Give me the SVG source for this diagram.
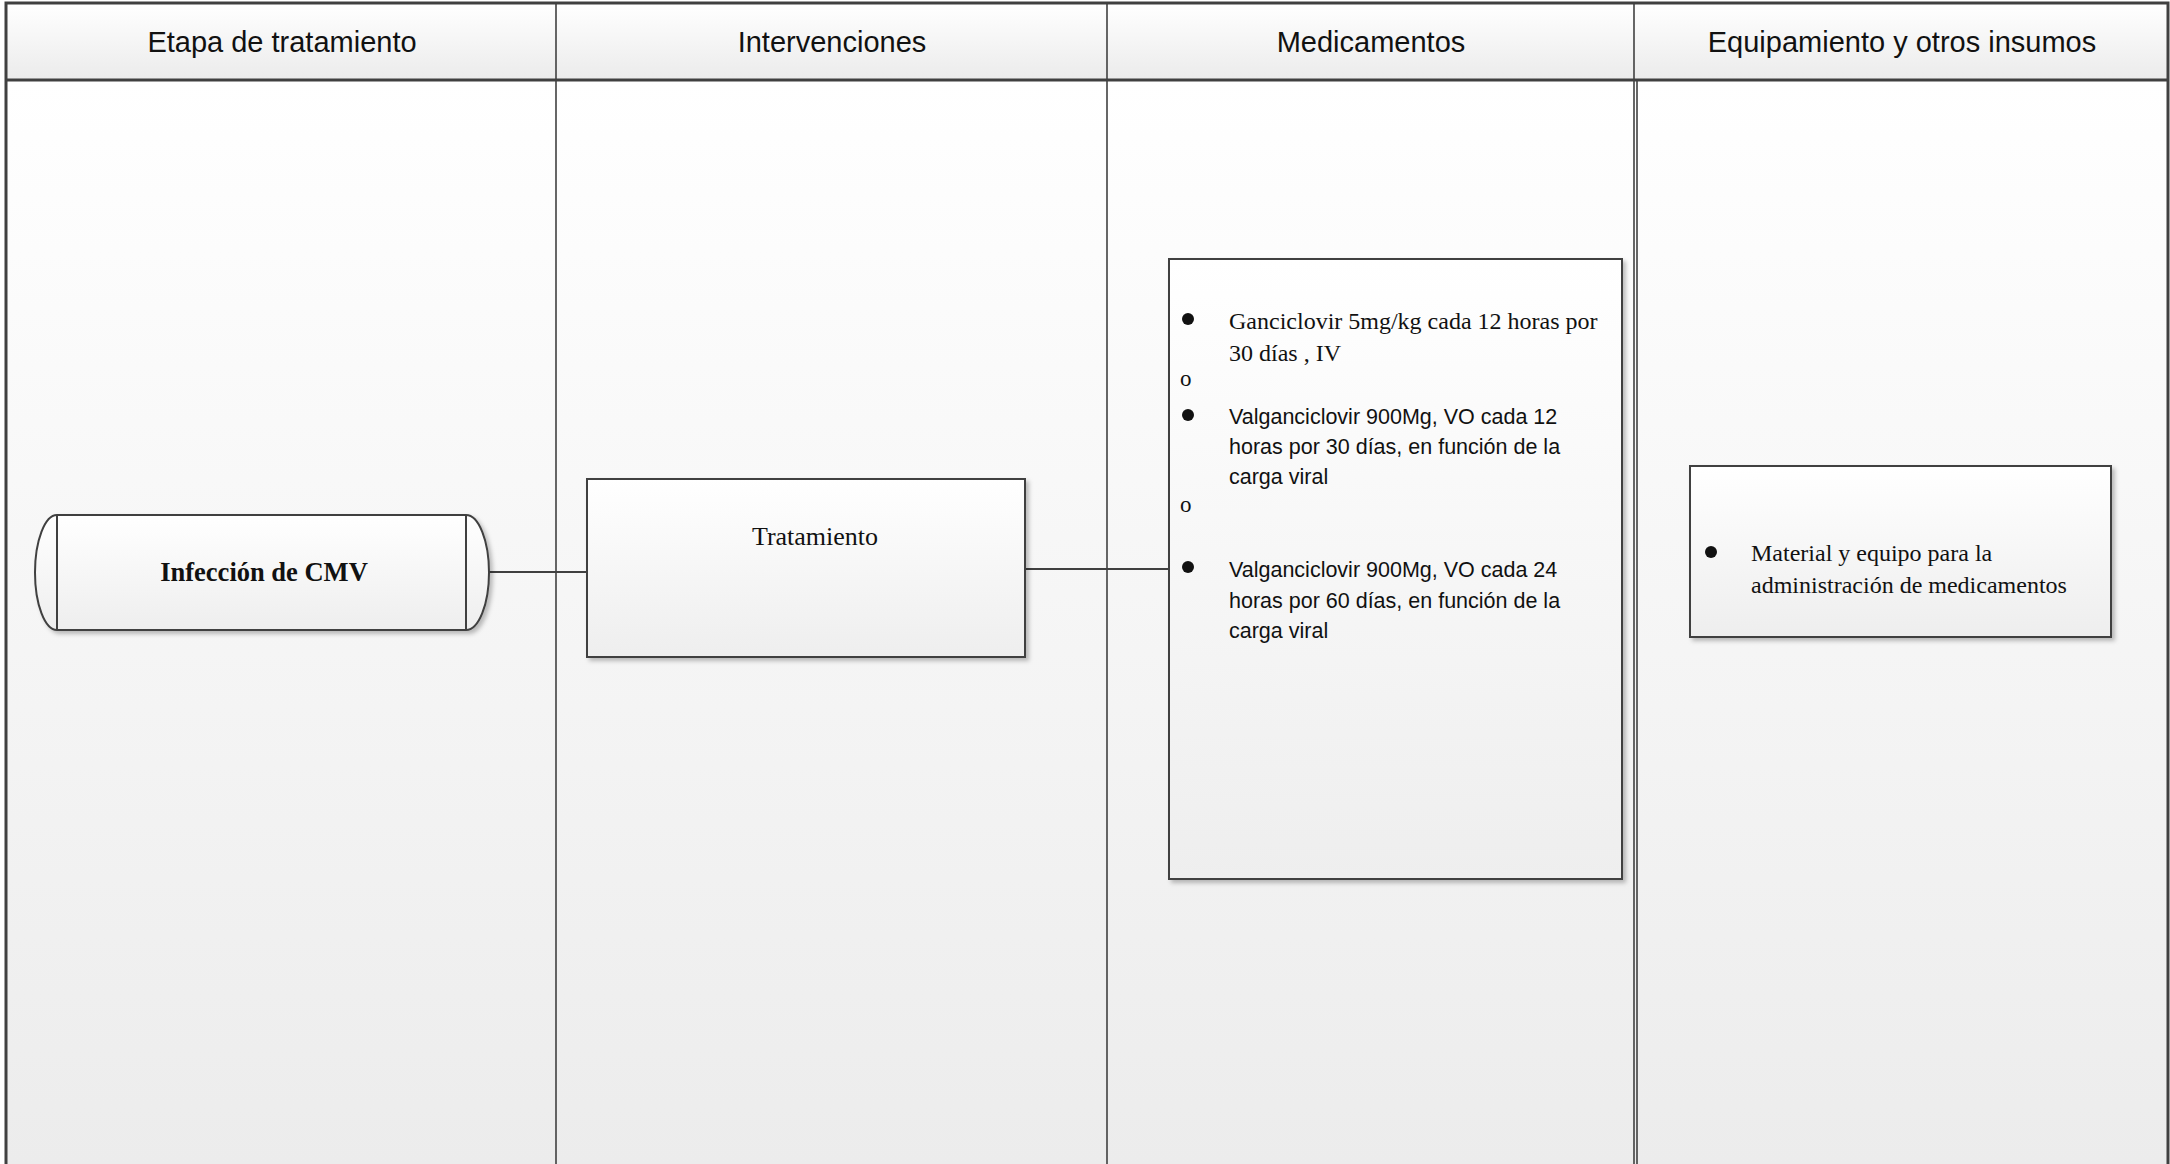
<svg xmlns="http://www.w3.org/2000/svg" width="2170" height="1164" viewBox="0 0 2170 1164">
<defs>
<linearGradient id="lane" x1="0" y1="0" x2="0" y2="1"><stop offset="0" stop-color="#ffffff"/><stop offset="1" stop-color="#ececec"/></linearGradient>
<linearGradient id="hdr" x1="0" y1="0" x2="0" y2="1"><stop offset="0" stop-color="#ffffff"/><stop offset="1" stop-color="#ebebeb"/></linearGradient>
<linearGradient id="box" x1="0" y1="0" x2="0" y2="1"><stop offset="0" stop-color="#ffffff"/><stop offset="1" stop-color="#eeeeee"/></linearGradient>
<filter id="sh" x="-5%" y="-5%" width="115%" height="115%"><feDropShadow dx="3" dy="3" stdDeviation="2" flood-color="#000" flood-opacity="0.25"/></filter>
</defs>
<style>
.frame{fill:none;stroke:#404040;stroke-width:3}
.lane{stroke:#404040;stroke-width:1.6}
.hd{font-family:"Liberation Sans",Arial,sans-serif;font-size:29px;fill:#111;text-anchor:middle}
.node{fill:url(#box);stroke:#404040;stroke-width:2;filter:url(#sh)}
.tm{font-family:"Liberation Serif","Times New Roman",serif;fill:#111}
.sa{font-family:"Liberation Sans",Arial,sans-serif;font-size:21.5px;fill:#111}
.con{stroke:#404040;stroke-width:2;fill:none}
.bul{fill:#111}
</style>
<rect x="0" y="0" width="2170" height="1164" fill="#ffffff"/>
<g id="lanes">
<rect x="7" y="80" width="2160" height="1084" fill="url(#lane)"/>
<rect x="7" y="4" width="2160" height="76" fill="url(#hdr)"/>
<line class="lane" x1="556" y1="4" x2="556" y2="1164"/>
<line class="lane" x1="1107" y1="4" x2="1107" y2="1164"/>
<line class="lane" x1="1634" y1="4" x2="1634" y2="1164"/>
<line class="lane" x1="1637" y1="80" x2="1637" y2="1164"/>
<line x1="7" y1="80" x2="2167" y2="80" stroke="#404040" stroke-width="3"/>
<rect class="frame" x="6" y="3" width="2162" height="1170"/>
<text class="hd" x="282" y="52">Etapa de tratamiento</text>
<text class="hd" x="832" y="52">Intervenciones</text>
<text class="hd" x="1371" y="52">Medicamentos</text>
<text class="hd" x="1902" y="52">Equipamiento y otros insumos</text>
</g>
<g id="connectors">
<line class="con" x1="489" y1="572" x2="587" y2="572"/>
<line class="con" x1="1025" y1="569" x2="1169" y2="569"/>
</g>
<g id="infeccion">
<path class="node" d="M57,515 H466 A23,57.5 0 0 1 466,630 H57 A22,57.5 0 0 1 57,515 Z"/>
<line class="con" x1="57" y1="515" x2="57" y2="630"/>
<line class="con" x1="466" y1="515" x2="466" y2="630"/>
<text class="tm" x="264" y="581" font-size="26.5" font-weight="bold" text-anchor="middle">Infección de CMV</text>
</g>
<g id="tratamiento">
<rect class="node" x="587" y="479" width="438" height="178"/>
<text class="tm" x="815" y="545" font-size="26" text-anchor="middle">Tratamiento</text>
</g>
<g id="medicamentos">
<rect class="node" x="1169" y="259" width="453" height="620"/>
<circle class="bul" cx="1188" cy="319" r="6"/>
<text class="tm" x="1229" y="329" font-size="24">Ganciclovir 5mg/kg cada 12 horas por</text>
<text class="tm" x="1229" y="361" font-size="24">30 días , IV</text>
<text class="tm" x="1180" y="386" font-size="23">o</text>
<circle class="bul" cx="1188" cy="415" r="6"/>
<text class="sa" x="1229" y="424">Valganciclovir 900Mg, VO cada 12</text>
<text class="sa" x="1229" y="454">horas por 30 días, en función de la</text>
<text class="sa" x="1229" y="484">carga viral</text>
<text class="tm" x="1180" y="512" font-size="23">o</text>
<circle class="bul" cx="1188" cy="567" r="6"/>
<text class="sa" x="1229" y="577">Valganciclovir 900Mg, VO cada 24</text>
<text class="sa" x="1229" y="608">horas por 60 días, en función de la</text>
<text class="sa" x="1229" y="638">carga viral</text>
</g>
<g id="equipamiento">
<rect class="node" x="1690" y="466" width="421" height="171"/>
<circle class="bul" cx="1711" cy="552" r="6"/>
<text class="tm" x="1751" y="561" font-size="24">Material y equipo para la</text>
<text class="tm" x="1751" y="593" font-size="24">administración de medicamentos</text>
</g>
</svg>
